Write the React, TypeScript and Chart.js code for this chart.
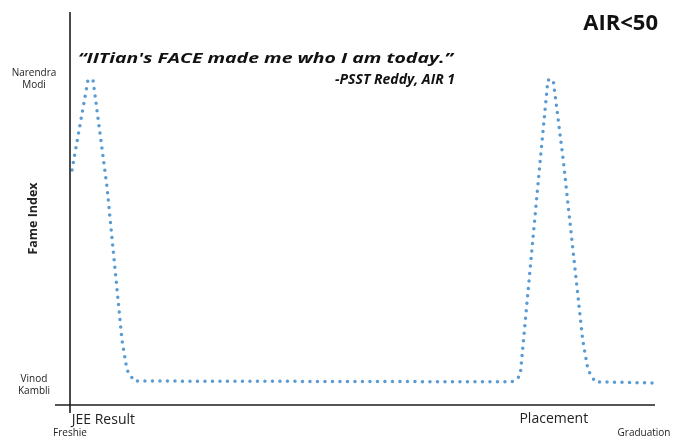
import React, { useEffect, useRef } from "react";
import { Chart, registerables } from "chart.js";

Chart.register(...registerables);

// Time from Freshie (0) to Graduation (100)
const timeValues = [0.34, 3.05, 3.9, 6.27, 8.81, 9.66, 10.85, 74.9, 76.3, 79.7, 81.0, 81.9, 83.6, 86.9, 87.8, 89.0, 99.2];
// Fame index (0 = Vinod Kambli level, 100 = top)
const fameValues = [59.8, 82.7, 82.7, 55.5, 16.5, 8.9, 6.1, 5.9, 7.4, 62.3, 82.7, 82.7, 62.3, 16.5, 8.9, 5.9, 5.6];

const yTickValues = [83, 5];
const yTickLabels = [["Narendra", "Modi"], ["Vinod", "Kambli"]];
const xMilestones = ["JEE Result", "Placement"];
const xMilestoneValues = [0.3, 82];
const xEnds = ["Freshie", "Graduation"];
const xEndValues = [0, 92.8];
const title = "AIR<50";
const quote = "\u201CIITian's FACE made me who I am today.\u201D";
const quoteAuthor = "-PSST Reddy, AIR 1";
const yTitle = "Fame Index";

const FONT = "'Open Sans', 'DejaVu Sans', sans-serif";

const annotPlugin = {
  id: "annot",
  afterDraw(chart: any) {
    const ctx = chart.ctx as CanvasRenderingContext2D;
    const ca = chart.chartArea;
    const xs = chart.scales.x;
    const ys = chart.scales.y;
    ctx.save();
    // axes
    ctx.strokeStyle = "#1e1e1e";
    ctx.lineWidth = 1.6;
    ctx.beginPath();
    ctx.moveTo(ca.left, ca.top);
    ctx.lineTo(ca.left, ca.bottom + 8);
    ctx.moveTo(ca.left - 15, ca.bottom);
    ctx.lineTo(ca.right - 5, ca.bottom);
    ctx.stroke();

    ctx.fillStyle = "#222";
    // y tick labels
    ctx.font = `10px ${FONT}`;
    ctx.textAlign = "center";
    ctx.textBaseline = "middle";
    yTickValues.forEach((v, i) => {
      const py = ys.getPixelForValue(v);
      const lines = yTickLabels[i];
      lines.forEach((l, j) => {
        ctx.fillText(l, 34, py + (j - (lines.length - 1) / 2) * 12);
      });
    });
    // y title
    ctx.save();
    ctx.translate(33, (ca.top + ca.bottom) / 2 + 10);
    ctx.rotate(-Math.PI / 2);
    ctx.font = `bold 12.5px ${FONT}`;
    ctx.fillText(yTitle, 0, 0);
    ctx.restore();

    // x milestones
    ctx.font = `14px ${FONT}`;
    ctx.textBaseline = "alphabetic";
    ctx.textAlign = "left";
    ctx.fillText(xMilestones[0], xs.getPixelForValue(xMilestoneValues[0]), ca.bottom + 19);
    ctx.textAlign = "center";
    ctx.fillText(xMilestones[1], xs.getPixelForValue(xMilestoneValues[1]), ca.bottom + 18);
    ctx.font = `10px ${FONT}`;
    ctx.textAlign = "center";
    ctx.fillText(xEnds[0], xs.getPixelForValue(xEndValues[0]), ca.bottom + 31);
    ctx.textAlign = "left";
    ctx.fillText(xEnds[1], xs.getPixelForValue(xEndValues[1]), ca.bottom + 31);

    // title
    ctx.font = `bold 22px ${FONT}`;
    ctx.textAlign = "right";
    ctx.fillStyle = "#111";
    ctx.fillText(title, 658, 30);

    // quote
    ctx.font = `italic bold 15px ${FONT}`;
    ctx.textAlign = "left";
    const w = ctx.measureText(quote).width;
    ctx.save();
    ctx.translate(78, 63);
    ctx.scale(375 / w, 1);
    ctx.fillText(quote, 0, 0);
    ctx.restore();
    ctx.font = `italic bold 14px ${FONT}`;
    ctx.textAlign = "right";
    ctx.fillText(quoteAuthor, 455, 84);
    ctx.restore();
  },
};

export default function App() {
  const ref = useRef<HTMLCanvasElement>(null);
  useEffect(() => {
    document.body.style.margin = "0";
    const chart = new Chart(ref.current!, {
      type: "line",
      data: {
        datasets: [
          {
            data: timeValues.map((t, i) => ({ x: t, y: fameValues[i] })),
            borderColor: "#5b9bd3",
            borderWidth: 3.5,
            borderDash: [0, 7.5],
            borderCapStyle: "round",
            pointRadius: 0,
            tension: 0,
            fill: false,
          },
        ],
      },
      options: {
        animation: false,
        responsive: false,
        maintainAspectRatio: false,
        layout: { padding: { left: 70, top: 12, right: 20, bottom: 36 } },
        plugins: { legend: { display: false }, tooltip: { enabled: false } },
        scales: {
          x: { type: "linear", min: 0, max: 100, display: false },
          y: { type: "linear", min: 0, max: 100, display: false },
        },
      },
      plugins: [annotPlugin],
    });
    return () => chart.destroy();
  }, []);
  return (
    <div style={{ position: "absolute", left: 0, top: 0, width: 680, height: 441, background: "#fff" }}>
      <canvas ref={ref} width={680} height={441} />
    </div>
  );
}
